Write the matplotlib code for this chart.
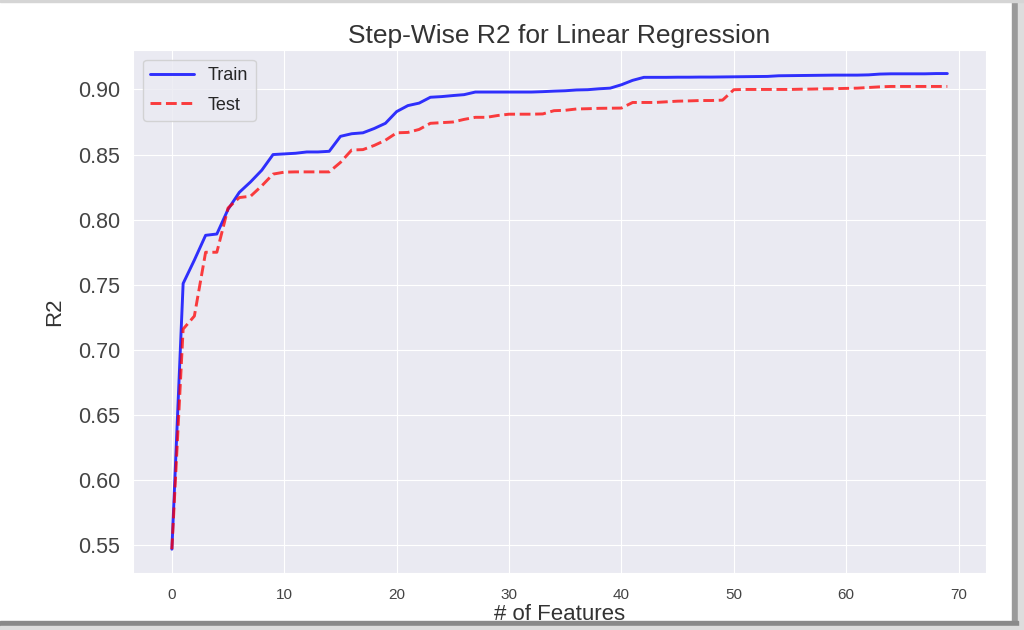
import matplotlib
matplotlib.use("Agg")
import matplotlib.pyplot as plt
import seaborn as sns
from matplotlib.patches import Rectangle

sns.set_style("darkgrid")
plt.rcParams['font.family'] = ['Liberation Sans', 'DejaVu Sans']

n_features = list(range(70))
train_r2 = [0.547, 0.751, 0.769, 0.788, 0.789, 0.808, 0.821, 0.829, 0.838, 0.850,
            0.8505, 0.851, 0.852, 0.852, 0.8525, 0.864, 0.866, 0.8667, 0.870, 0.874,
            0.883, 0.8876, 0.8895, 0.894, 0.8945, 0.8953, 0.896, 0.898, 0.898, 0.898,
            0.898, 0.898, 0.898, 0.8983, 0.8987, 0.899, 0.8996, 0.8998, 0.9005, 0.901,
            0.9036, 0.907, 0.9093, 0.9093, 0.9093, 0.9094, 0.9094, 0.9095, 0.9095, 0.9096,
            0.9097, 0.9098, 0.9099, 0.9100, 0.9105, 0.9106, 0.9107, 0.9108, 0.9109, 0.911,
            0.911, 0.911, 0.9112, 0.9118, 0.912, 0.912, 0.912, 0.912, 0.9122, 0.9122]
test_r2 = [0.547, 0.716, 0.726, 0.775, 0.775, 0.809, 0.817, 0.818, 0.826, 0.835,
           0.8365, 0.8367, 0.8367, 0.8367, 0.8367, 0.844, 0.8535, 0.8538, 0.857, 0.861,
           0.8667, 0.867, 0.8693, 0.874, 0.8745, 0.875, 0.877, 0.8786, 0.8786, 0.880,
           0.881, 0.881, 0.881, 0.8812, 0.8837, 0.884, 0.885, 0.8852, 0.8855, 0.8856,
           0.8857, 0.890, 0.890, 0.890, 0.8905, 0.891, 0.8912, 0.8915, 0.8915, 0.8918,
           0.8998, 0.900, 0.900, 0.900, 0.900, 0.900, 0.9002, 0.9003, 0.9005, 0.9006,
           0.9008, 0.901, 0.9015, 0.902, 0.9023, 0.9023, 0.9023, 0.9023, 0.9023, 0.9023]

fig = plt.figure(figsize=(10.24, 6.30), dpi=100)
ax = fig.add_axes([0.130, 0.0905, 0.833, 0.8305])

ax.plot(n_features, train_r2, color='blue', alpha=0.8, lw=2.1, label='Train')
ax.plot(n_features, test_r2, color='red', alpha=0.75, lw=2.1, ls='--', label='Test')

ax.set_title('Step-Wise R2 for Linear Regression', fontsize=19, color='#333333', pad=5)
ax.set_ylabel('R2', fontsize=16, color='#333333', labelpad=9)
ax.set_xlabel('# of Features', fontsize=16, color='#333333', labelpad=2)
ax.tick_params(axis='y', labelsize=15.5, colors='#444444', pad=6)
ax.tick_params(axis='x', labelsize=11, colors='#444444', pad=7)
ax.set_xticks([0, 10, 20, 30, 40, 50, 60, 70])
ax.set_yticks([0.55, 0.60, 0.65, 0.70, 0.75, 0.80, 0.85, 0.90])
ax.set_yticklabels([f"{v:.2f}" for v in [0.55, 0.60, 0.65, 0.70, 0.75, 0.80, 0.85, 0.90]])
ax.legend(loc='upper left', fontsize=13, labelspacing=0.7, borderaxespad=0.55,
          handlelength=2.4)

# screenshot frame shadow
fig.patches.append(Rectangle((0.9885, 0.0), 0.006, 1.0, transform=fig.transFigure,
                             color='#9a9a9a', zorder=10))
fig.patches.append(Rectangle((0.9945, 0.0), 0.0055, 1.0, transform=fig.transFigure,
                             color='#dddddd', zorder=10))
fig.patches.append(Rectangle((0.0, 0.006), 0.9945, 0.009, transform=fig.transFigure,
                             color='#8a8a8a', zorder=10))
fig.patches.append(Rectangle((0.0, 0.0), 1.0, 0.006, transform=fig.transFigure,
                             color='#dddddd', zorder=10))
fig.patches.append(Rectangle((0.0, 0.997), 1.0, 0.003, transform=fig.transFigure,
                             color='#d5d5d5', zorder=10))

fig.savefig('out.png', dpi=100)
